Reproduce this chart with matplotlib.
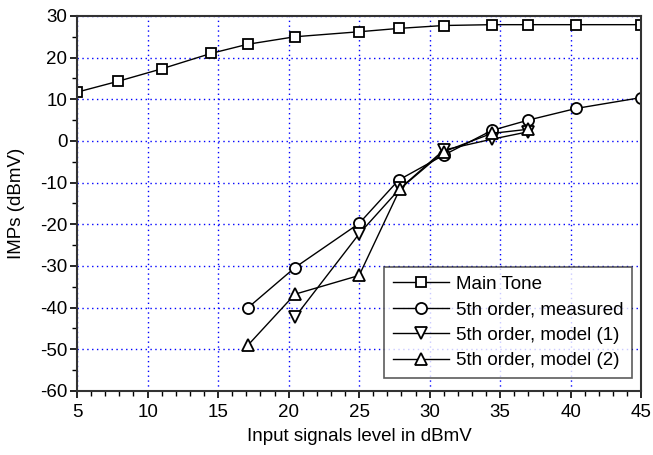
import numpy as np
import matplotlib
matplotlib.use('Agg')
from matplotlib import pyplot as plt
from matplotlib.ticker import MultipleLocator

plt.rcParams['font.family'] = ['Liberation Sans', 'DejaVu Sans']
plt.rcParams['axes.unicode_minus'] = False

# main tone
x_main = [5, 7.9, 11.0, 14.5, 17.1, 20.45, 25, 27.8, 31, 34.4, 37, 40.4, 45]
y_main = [11.7, 14.3, 17.3, 21.0, 23.2, 25.0, 26.2, 27.0, 27.7, 27.9, 27.9, 27.9, 27.9]

# 5th order, measured
x_meas = [17.1, 20.45, 25, 27.8, 31, 34.4, 37, 40.4, 45]
y_meas = [-40.1, -30.4, -19.8, -9.4, -3.4, 2.5, 5.0, 7.8, 10.4]

# 5th order, model (1)
x_mod1 = [20.45, 25, 27.9, 31, 34.4, 37]
y_mod1 = [-42.3, -22.3, -11.4, -2.2, 0.4, 2.2]

# 5th order, model (2)
x_mod2 = [17.1, 20.45, 25, 27.9, 31, 34.4, 37]
y_mod2 = [-49.1, -36.8, -32.3, -11.5, -2.6, 1.8, 2.8]

fig = plt.figure(figsize=(6.53, 4.55), dpi=100)
ax = fig.add_axes([0.118, 0.141, 0.864, 0.824])

mk = dict(color='black', lw=1.0, mfc='white', mec='black', mew=1.3, ms=8)
ax.plot(x_main, y_main, marker='s', label='Main Tone', **dict(mk, ms=7.5))
ax.plot(x_meas, y_meas, marker='o', label='5th order, measured', **mk)
ax.plot(x_mod1, y_mod1, marker='v', label='5th order, model (1)', **dict(mk, ms=9))
ax.plot(x_mod2, y_mod2, marker='^', label='5th order, model (2)', **dict(mk, ms=9))

ax.set_xlim(5, 45)
ax.set_ylim(-60, 30)
ax.xaxis.set_major_locator(MultipleLocator(5))
ax.xaxis.set_minor_locator(MultipleLocator(1))
ax.yaxis.set_major_locator(MultipleLocator(10))
ax.yaxis.set_minor_locator(MultipleLocator(5))
ax.tick_params(which='major', length=5, width=1.2, labelsize=13.5, direction='out')
ax.tick_params(which='minor', length=3.5, width=1.0, direction='out')
ax.tick_params(axis='x', which='major', pad=4.5)
ax.tick_params(axis='y', which='major', pad=2)
ax.grid(True, which='major', color='blue', linestyle=(0, (1, 2.5)), lw=1.0)
ax.set_axisbelow(True)

for s in ax.spines.values():
    s.set_color('#333333')
    s.set_linewidth(1.5)

ax.set_xlabel('Input signals level in dBmV', fontsize=13.5)
ax.set_ylabel('IMPs (dBmV)', fontsize=13.5)
ax.xaxis.set_label_coords(0.5, -0.1)
ax.yaxis.set_label_coords(-0.092, 0.5)

leg = ax.legend(loc='lower right', fontsize=13.5, frameon=True, fancybox=False,
                edgecolor='#333333', handlelength=3.0, handletextpad=0.4,
                labelspacing=0.45, borderpad=0.45, borderaxespad=0,
                bbox_to_anchor=(0.984, 0.035))
leg.get_frame().set_linewidth(1.2)

fig.savefig('out.png', dpi=100)
